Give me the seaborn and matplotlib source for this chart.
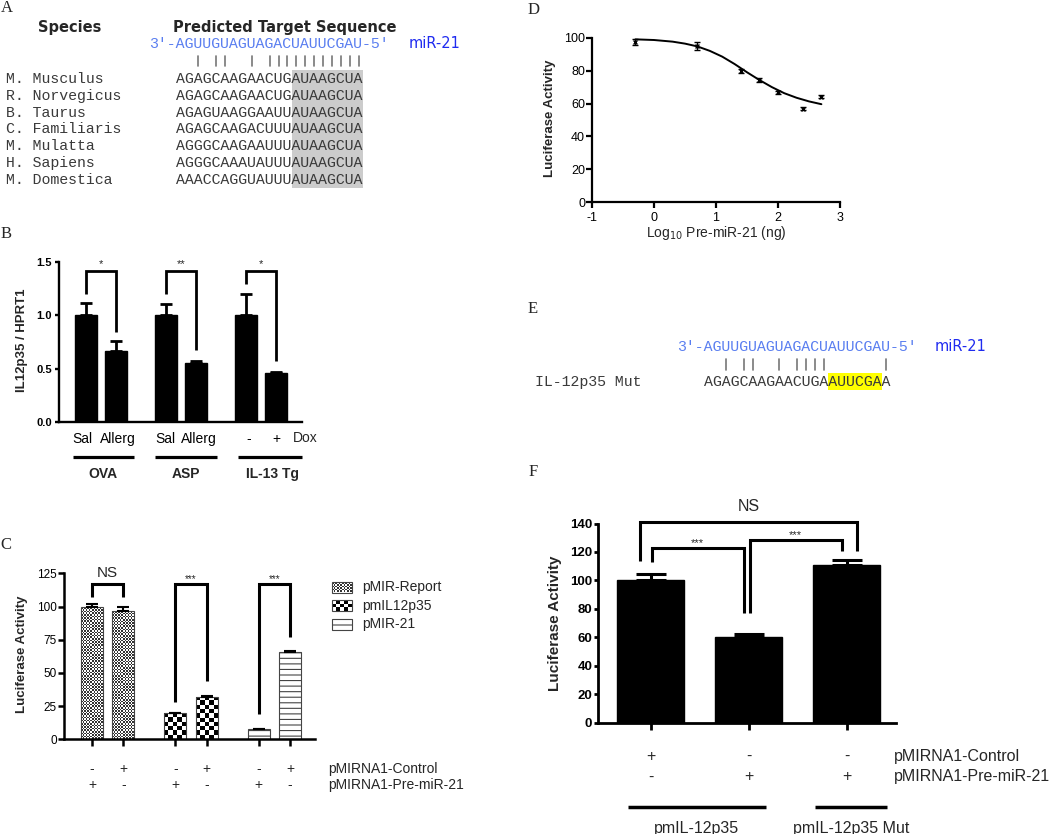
import numpy as np
import seaborn as sns
import matplotlib.pyplot as plt
from matplotlib.patches import Rectangle
from matplotlib.colors import ListedColormap
from matplotlib.transforms import ScaledTranslation

sns.set_theme(style="ticks")
plt.rcParams["font.family"] = ["Liberation Sans", "DejaVu Sans"]
plt.rcParams["hatch.linewidth"] = 0.8
plt.rcParams["axes.unicode_minus"] = False

# ---------------- data ----------------
# A: conserved miR-21 site
species = ["M. Musculus", "R. Norvegicus", "B. Taurus", "C. Familiaris",
           "M. Mulatta", "H. Sapiens", "M. Domestica"]
targets = ["AGAGCAAGAACUGAUAAGCUA", "AGAGCAAGAACUGAUAAGCUA", "AGAGUAAGGAAUUAUAAGCUA",
           "AGAGCAAGACUUUAUAAGCUA", "AGGGCAAGAAUUUAUAAGCUA", "AGGGCAAAUAUUUAUAAGCUA",
           "AAACCAGGUAUUUAUAAGCUA"]
mir21 = "AGUUGUAGUAGACUAUUCGAU"
seed_start, seed_len = 13, 8

# B: IL12p35 / HPRT1
b_groups = ["OVA", "ASP", "IL-13 Tg"]
b_labels = ["Sal", "Allerg", "Sal", "Allerg", "-", "+"]
b_vals = [1.0, 0.66, 1.0, 0.55, 1.0, 0.455]
b_err = [0.11, 0.095, 0.10, 0.02, 0.20, 0.015]
b_sig = ["*", "**", "*"]
b_leg_bottom = [(1.20, 0.845), (1.20, 0.674), (1.29, 0.571)]
b_top = 1.41

# C: reporter assay
c_series = ["pMIR-Report", "pmIL12p35", "pMIR-21"]
c_control = ["-", "+", "-", "+", "-", "+"]
c_premir = ["+", "-", "+", "-", "+", "-"]
c_vals = [100, 96.3, 19.5, 32, 7.5, 65.4]
c_err = [1.6, 3.2, 0.6, 0.7, 0.6, 0.8]
c_sig = ["NS", "***", "***"]
c_leg_bottom = [(107.5, 107.5), (28.3, 44), (18.7, 77)]
c_top = 117

# D: dose response
d_x = [-0.30, 0.70, 1.40, 1.70, 2.00, 2.40, 2.70]
d_y = [97.6, 95.0, 79.9, 74.3, 66.8, 56.9, 64.2]
d_err = [1.8, 2.4, 1.1, 1.2, 0.8, 0.7, 0.7]
fit_x = [-0.3, 0.0, 0.3, 0.5, 0.7, 0.9, 1.1, 1.3, 1.5, 1.7, 1.9, 2.1, 2.3, 2.5, 2.7]
fit_y = [99.0, 98.6, 97.6, 96.4, 94.7, 92.0, 88.5, 84.0, 79.0, 74.3, 70.0, 66.3, 63.5, 61.3, 59.6]

# E: mutant site
mut_target = "AGAGCAAGAACUGAAUUCGAA"
mut_start, mut_len = 14, 6

# F: mutant reporter
f_conditions = ["Control", "Pre-miR-21", "Mut Pre-miR-21"]
f_vals = [100, 60.5, 110.8]
f_err = [4.3, 1.5, 3.8]
f_control = ["+", "-", "-"]
f_premir = ["-", "+", "+"]
f_groups = ["pmIL-12p35", "pmIL-12p35 Mut"]
f_brackets = [(0, 2, 113.5, 120.6, 141.3, "NS"),
              (0, 1, 112.8, 77.2, 123.0, "***"),
              (1, 2, 77.2, 120.6, 128.6, "***")]

# ---------------- helpers ----------------
W, H = 1050, 834
fig = plt.figure(figsize=(W / 100, H / 100), dpi=100)


def box(l, t, r, b):
    return [l / W, 1 - b / H, (r - l) / W, (b - t) / H]


def style(ax, lw):
    sns.despine(ax=ax)
    for s in ("left", "bottom"):
        ax.spines[s].set_linewidth(lw)
        ax.spines[s].set_color("black")
    ax.tick_params(width=lw, color="black", labelcolor="black")
    ax.set_xlabel("")
    ax.set_ylabel("")


def checker(ax, patch, cell, dark="black"):
    bb = patch.get_window_extent()
    nx = max(1, int(round(bb.width / cell)))
    ny = max(1, int(round(bb.height / cell)))
    tile = np.indices((ny, nx)).sum(axis=0) % 2
    x0, y0 = patch.get_x(), patch.get_y()
    im = ax.imshow(tile, cmap=ListedColormap(["white", dark]), vmin=0, vmax=1,
                   extent=(x0, x0 + patch.get_width(), y0, y0 + patch.get_height()),
                   interpolation="nearest", aspect="auto", origin="lower", zorder=0.5)
    im.set_clip_path(patch)


def bracket(ax, xl, xr, yl, yr, top, text, size, dy, lw):
    ax.plot([xl, xl, xr, xr], [yl, top, top, yr], color="black", lw=lw,
            clip_on=False, solid_joinstyle="miter", solid_capstyle="butt")
    ax.annotate(text, ((xl + xr) / 2, top), xytext=(0, dy), textcoords="offset pixels",
                ha="center", va="center", fontsize=size, annotation_clip=False)


def px(ax, x):
    return ax.transData.transform((x, 0))[0]


# ---------------- B ----------------
axB = fig.add_axes(box(59, 261.7, 302, 422))
b_pos = [g * 8 + j * 3 for g in range(len(b_groups)) for j in range(2)]
sns.barplot(x=b_pos, y=b_vals, native_scale=True, width=2.2 / 3, color="black",
            saturation=1, edgecolor="black", errorbar=None, ax=axB)
axB.errorbar(b_pos, b_vals, yerr=[np.zeros(len(b_vals)), b_err], fmt="none",
             ecolor="black", elinewidth=2, capsize=4.3, capthick=2)
axB.set_xlim(-2.7, 21.6)
axB.set_ylim(0, 1.5)
style(axB, 1.7)
axB.set_yticks([0, 0.5, 1.0, 1.5], ["0.0", "0.5", "1.0", "1.5"], fontweight="bold", fontsize=8)
axB.set_xticks(b_pos, b_labels, fontsize=10)
axB.tick_params(axis="x", length=0, pad=7)
axB.tick_params(axis="y", length=3, pad=2)
# small horizontal nudges of the condition labels, as in the original layout
for lbl, dx in zip(axB.get_xticklabels(), [-3.5, 2, -1, 3, 3, 0]):
    lbl.set_transform(lbl.get_transform() + ScaledTranslation(dx / 100, 0, fig.dpi_scale_trans))
for g, sig in enumerate(b_sig):
    lb, rb = b_leg_bottom[g]
    bracket(axB, b_pos[2 * g], b_pos[2 * g + 1], lb, rb, b_top, sig, 8, 7, 2)

# ---------------- C ----------------
axC = fig.add_axes(box(64, 573.3, 315, 739.3))
c_pos = [g * 8 + j * 3 for g in range(len(c_series)) for j in range(2)]
sns.barplot(x=c_pos, y=c_vals, native_scale=True, width=2.1 / 3, color="white",
            saturation=1, edgecolor="#444444", linewidth=0.8, errorbar=None, ax=axC)
axC.set_xlim(-2.69, 21.4)
axC.set_ylim(0, 125)
for i, p in enumerate(list(axC.patches)):
    g = i // 2
    if g == 0:
        p.set_facecolor("none")
        checker(axC, p, 1.6, "#333333")
    elif g == 1:
        p.set_facecolor("none")
        checker(axC, p, 4.3)
    else:
        p.set_facecolor("white")
        p.set_hatch("---")
axC.errorbar(c_pos, c_vals, yerr=[np.zeros(len(c_vals)), c_err], fmt="none",
             ecolor="black", elinewidth=1.5, capsize=4, capthick=1.5)
axC.set_xlim(-2.69, 21.4)
axC.set_ylim(0, 125)
style(axC, 1.8)
axC.set_yticks(range(0, 126, 25))
axC.tick_params(axis="y", length=4, pad=1, labelsize=8.5)
axC.set_xticks(c_pos, [""] * len(c_pos))
axC.tick_params(axis="x", length=5)
for g, sig in enumerate(c_sig):
    lb, rb = c_leg_bottom[g]
    big = sig == "NS"
    bracket(axC, c_pos[2 * g], c_pos[2 * g + 1], lb, rb, c_top, sig,
            11 if big else 7, 11 if big else 5, 2.2)

# ---------------- D ----------------
axD = fig.add_axes(box(592, 37.7, 840, 202.3))
sns.lineplot(x=fit_x, y=fit_y, color="black", lw=1.4, ax=axD)
axD.errorbar(d_x, d_y, yerr=d_err, fmt="none", ecolor="black", elinewidth=1,
             capsize=2.5, capthick=1)
sns.scatterplot(x=d_x, y=d_y, marker="x", s=8, color="black", linewidth=1, ax=axD)
axD.set_xlim(-1, 3)
axD.set_ylim(0, 100)
style(axD, 1.6)
axD.set_xticks(range(-1, 4))
axD.set_yticks(range(0, 101, 20))
axD.tick_params(axis="both", length=4, labelsize=9)
axD.tick_params(axis="y", pad=1)
axD.tick_params(axis="x", pad=3)

# ---------------- F ----------------
axF = fig.add_axes(box(598.4, 523.5, 896, 722.6))
sns.barplot(x=f_conditions, y=f_vals, width=0.684, color="black", saturation=1,
            edgecolor="black", errorbar=None, ax=axF)
axF.errorbar(range(len(f_vals)), f_vals, yerr=[np.zeros(len(f_vals)), f_err], fmt="none",
             ecolor="black", elinewidth=2.2, capsize=11, capthick=2.2)
axF.set_xlim(-0.536, 2.505)
axF.set_ylim(0, 140)
style(axF, 2)
axF.set_yticks(range(0, 141, 20), [str(v) for v in range(0, 141, 20)],
               fontweight="bold", fontsize=9.5)
axF.tick_params(axis="y", length=3, pad=1.5)
axF.set_xticks(range(len(f_vals)), [""] * len(f_vals))
axF.tick_params(axis="x", length=5)
for i, j, lb, rb, top, sig in f_brackets:
    nudge = 0.11 if j - i > 1 else -0.04
    big = sig == "NS"
    bracket(axF, i - nudge if big else i + 0.01, j + nudge if big else j - 0.05, lb, rb, top,
            sig, 11.5 if big else 8, 15 if big else 5, 2.2)

# ---------------- overlay: text panels and annotations ----------------
ov = fig.add_axes([0, 0, 1, 1])
ov.set_xlim(0, W)
ov.set_ylim(H, 0)
ov.axis("off")

serif = dict(family="Liberation Serif", fontsize=12, ha="center", va="center")
for letter, (x, y) in zip("ABCDEF", [(7, 8), (6, 234), (6, 545), (534, 10), (533, 309), (533, 472)]):
    ov.text(x, y, letter, **serif)

mono = dict(family="Liberation Mono", fontsize=10.7, va="baseline")
cw = 10.7 / 72 * 100 * 0.6
blue, dblue, grey = "#5a7ef0", "#1f2bf0", "#3a3a3a"
pairs = {("A", "U"), ("U", "A"), ("G", "C"), ("C", "G")}

# A
ov.text(70, 31.5, "Species", family="DejaVu Sans", fontweight="bold", fontsize=10.5,
        ha="center", va="baseline")
ov.text(285, 31.5, "Predicted Target Sequence", family="DejaVu Sans", fontweight="bold",
        fontsize=10.5, ha="center", va="baseline")
tx = 176
ov.text(tx - 3 * cw, 48.3, "3'-" + mir21 + "-5'", color=blue, **mono)
ov.text(409, 48.3, "miR-21", color=dblue, family="DejaVu Sans", fontsize=10.5, va="baseline")
for k, (m, t) in enumerate(zip(mir21, targets[0])):
    if (m, t) in pairs:
        ov.plot([tx + (k + 0.5) * cw] * 2, [56, 66], color="#777777", lw=1.2)
ov.add_patch(Rectangle((tx + seed_start * cw, 70), seed_len * cw, 117.7,
                       color="#cccccc", lw=0, zorder=0))
for i, (name, seq) in enumerate(zip(species, targets)):
    y = 82.7 + i * 16.9
    ov.text(6.5, y, name, color=grey, **mono)
    ov.text(tx, y, seq, color=grey, **mono)

# E
ex = 703.5
ov.text(ex - 3 * cw, 350.8, "3'-" + mir21 + "-5'", color=blue, **mono)
ov.text(935, 350.8, "miR-21", color=dblue, family="DejaVu Sans", fontsize=10.5, va="baseline")
for k, (m, t) in enumerate(zip(mir21, mut_target)):
    if (m, t) in pairs:
        ov.plot([ex + (k + 0.5) * cw] * 2, [359.3, 370.4], color="#777777", lw=1.2)
ov.add_patch(Rectangle((ex + mut_start * cw, 373), mut_len * cw, 16.7,
                       color="#ffff00", lw=0, zorder=0))
ov.text(535, 385.7, "IL-12p35 Mut", color=grey, **mono)
ov.text(ex, 385.7, mut_target, color=grey, **mono)

# B annotations
ov.text(22, 340, "IL12p35 / HPRT1", rotation=90, fontweight="bold", fontsize=9.5,
        ha="center", va="center")
ov.text(293, 438, "Dox", fontsize=10, ha="left", va="center")
for name, (l, r), cx in zip(b_groups, [(73, 134), (155, 217), (238, 302)], [103, 186, 272]):
    ov.plot([l, r], [456.7, 456.7], color="black", lw=2.3, solid_capstyle="butt")
    ov.text(cx, 473.5, name, fontweight="bold", fontsize=10, ha="center", va="center")

# C annotations
ov.text(22, 654, "Luciferase Activity", rotation=90, fontweight="bold", fontsize=9.5,
        ha="center", va="center")
for x, a, b in zip(c_pos, c_control, c_premir):
    ov.text(px(axC, x), 769, a, fontsize=10, ha="center", va="center")
    ov.text(px(axC, x), 785, b, fontsize=10, ha="center", va="center")
ov.text(328, 769, "pMIRNA1-Control", fontsize=10, va="center")
ov.text(328, 785, "pMIRNA1-Pre-miR-21", fontsize=10, va="center")
for i, name in enumerate(c_series):
    y = 587 + i * 18.7
    r = Rectangle((332, y - 5.5), 20, 11, facecolor="none", edgecolor="#444444", lw=0.8, zorder=2)
    ov.add_patch(r)
    if i == 0:
        checker(ov, r, 1.6, "#333333")
    elif i == 1:
        checker(ov, r, 4.3)
    else:
        r.set_facecolor("white")
        r.set_hatch("---")
    ov.text(362, y, name, fontsize=10, va="center")

# D labels
ov.text(550, 118, "Luciferase Activity", rotation=90, fontweight="bold", fontsize=9.5,
        ha="center", va="center")
ov.text(716, 233, "Log$_{10}$ Pre-miR-21 (ng)", fontsize=10, ha="center", va="center")

# F annotations
ov.text(554.6, 623, "Luciferase Activity", rotation=90, fontweight="bold", fontsize=11,
        ha="center", va="center")
for x, a, b in zip(range(len(f_vals)), f_control, f_premir):
    ov.text(px(axF, x), 756.5, a, fontsize=11.5, ha="center", va="center")
    ov.text(px(axF, x), 777, b, fontsize=11.5, ha="center", va="center")
ov.text(893.5, 756.5, "pMIRNA1-Control", fontsize=11.5, va="center")
ov.text(893.5, 777, "pMIRNA1-Pre-miR-21", fontsize=11.5, va="center")
for name, (l, r) in zip(f_groups, [(627.5, 765.7), (815, 886.7)]):
    ov.plot([l, r], [806.5, 806.5], color="black", lw=2.5, solid_capstyle="butt")
    ov.text((l + r) / 2, 828, name, fontsize=11.5, ha="center", va="center")

ov.set_xlim(0, W)
ov.set_ylim(H, 0)

fig.savefig("out.png", dpi=100)
